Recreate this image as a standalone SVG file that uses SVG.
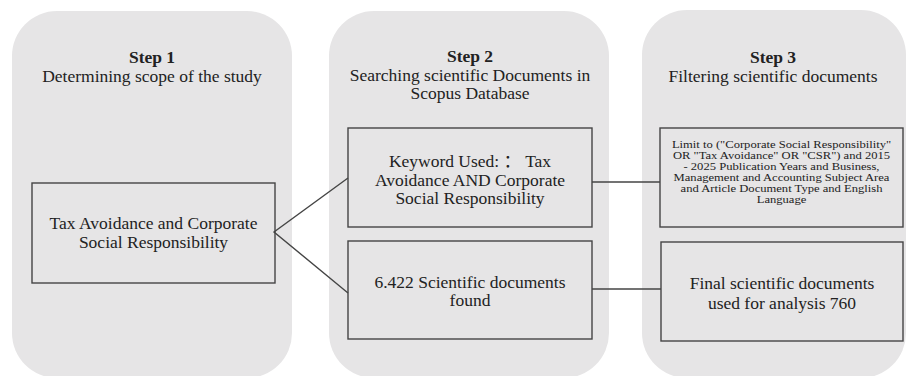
<svg xmlns="http://www.w3.org/2000/svg" width="908" height="376" viewBox="0 0 908 376">
<style>
.panel{fill:#e6e5e6;}
.box{fill:none;stroke:#454545;stroke-width:1.4;}
.con{stroke:#454545;stroke-width:1.4;fill:none;}
text{font-family:"Liberation Serif","Times New Roman",serif;fill:#222;text-anchor:middle;}
.cjk{font-family:"Liberation Serif","Times New Roman","Noto Sans CJK SC",serif;}
.h{font-size:17.5px;font-weight:bold;}
.s{font-size:17.5px;}
.t{font-size:17.5px;}
.sm{font-size:10.5px;}
.lg{font-size:17.5px;}
</style>
<rect width="908" height="376" fill="#ffffff"/>
<g id="panel1">
<rect class="panel" x="12" y="11" width="280" height="367" rx="45" ry="45"/>
<text class="h" x="152" y="63">Step 1</text>
<text class="s" x="152" y="82">Determining scope of the study</text>
</g>
<g id="panel2">
<rect class="panel" x="329" y="11" width="280" height="367" rx="45" ry="45"/>
<text class="h" x="470" y="62">Step 2</text>
<text class="s" x="470" y="80.5">Searching scientific Documents in</text>
<text class="s" x="470" y="99">Scopus Database</text>
</g>
<g id="panel3">
<rect class="panel" x="642" y="10" width="264" height="368" rx="45" ry="45"/>
<text class="h" x="773" y="63">Step 3</text>
<text class="s" x="773" y="82">Filtering scientific documents</text>
</g>
<g id="connectors">
<polyline class="con" points="348,178 274,232 348,293"/>
<line class="con" x1="592" y1="182" x2="660" y2="182"/>
<line class="con" x1="592" y1="289" x2="661" y2="289"/>
</g>
<g id="node-scope">
<rect class="box" x="32" y="183" width="243" height="100"/>
<text class="t" x="153.5" y="229">Tax Avoidance and Corporate</text>
<text class="t" x="153.5" y="248">Social Responsibility</text>
</g>
<g id="node-keyword">
<rect class="box" x="348" y="128" width="244" height="99"/>
<text class="t cjk" x="470" y="167">Keyword Used: ： Tax</text>
<text class="t" x="470" y="185.5">Avoidance AND Corporate</text>
<text class="t" x="470" y="204">Social Responsibility</text>
</g>
<g id="node-found">
<rect class="box" x="348" y="241" width="244" height="98"/>
<text class="t" x="470" y="287.5">6.422 Scientific documents</text>
<text class="t" x="470" y="306">found</text>
</g>
<g id="node-limit">
<rect class="box" x="660" y="128" width="243" height="99"/>
<g transform="translate(781.5,0) scale(1.2,1)">
<text class="sm" x="0" y="148.5">Limit to ("Corporate Social Responsibility"</text>
<text class="sm" x="0" y="159.5">OR "Tax Avoidance" OR "CSR") and 2015</text>
<text class="sm" x="0" y="170.5">- 2025 Publication Years and Business,</text>
<text class="sm" x="0" y="181.5">Management and Accounting Subject Area</text>
<text class="sm" x="0" y="192.5">and Article Document Type and English</text>
<text class="sm" x="0" y="203.5">Language</text>
</g>
</g>
<g id="node-final">
<rect class="box" x="661" y="242" width="242" height="99"/>
<text class="lg" x="782" y="289">Final scientific documents</text>
<text class="lg" x="782" y="308.5">used for analysis 760</text>
</g>
</svg>
